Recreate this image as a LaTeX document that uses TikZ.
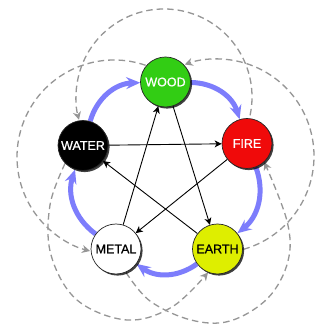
\documentclass[tikz,border=0pt]{standalone}
\usepackage{fontspec}
\newfontfamily\lblfont[FakeBold=0.8]{Liberation Sans}
\usetikzlibrary{arrows.meta,shadows,backgrounds}
\definecolor{woodc}{RGB}{50,205,20}
\definecolor{firec}{RGB}{240,10,10}
\definecolor{earthc}{RGB}{222,238,0}
\definecolor{bluec}{RGB}{125,125,252}
\definecolor{dashc}{RGB}{150,150,150}
\begin{document}
\begin{tikzpicture}[x=1pt,y=1pt,
  elem/.style={circle, minimum size=50pt, inner sep=0pt, draw=black!85, line width=0.7pt,
    font=\lblfont\fontsize{12.5}{12.5}\selectfont,
    drop shadow={shadow xshift=1.6pt, shadow yshift=-1.6pt, fill=black, opacity=0.75}},
  gen/.style={line width=5pt, draw=bluec, -{Stealth[length=14pt,width=12pt,inset=5pt]}},
  ctrl/.style={line width=0.9pt, draw=black, -{Stealth[length=7pt,width=7pt,inset=2pt]}},
  insult/.style={line width=1.3pt, draw=dashc, dash pattern=on 6.5pt off 4pt,
    -{Stealth[length=8pt,width=8pt,inset=2.5pt,fill=dashc]}}]
\useasboundingbox (0,0) rectangle (324,331);

\node[elem, fill=woodc, text=white] (wood) at (165.5,249) {WOOD};
\node[elem, fill=firec, text=white] (fire) at (247,187.5) {FIRE};
\node[elem, fill=earthc, text=black] (earth) at (217.5,82) {EARTH};
\node[elem, fill=white, text=black] (metal) at (116,82) {METAL};
\node[elem, fill=black, text=white] (water) at (83,185.5) {WATER};

\coordinate (cTop) at (164,234);
\coordinate (cRight) at (217,175);
\coordinate (cLeft) at (114,174);

\begin{scope}[on background layer]
  \fill[white] (0,0) rectangle (324,331);
  % generating cycle
  \draw[gen] (wood) to[bend left=36] (fire);
  \draw[gen] (fire) to[bend left=36] (earth);
  \draw[gen] (earth) to[bend left=36] (metal);
  \draw[gen] (metal) to[bend left=36] (water);
  \draw[gen] (water) to[bend left=36] (wood);
  % controlling cycle
  \draw[ctrl] (wood) -- (earth);
  \draw[ctrl] (earth) -- (water);
  \draw[ctrl] (water) -- (fire);
  \draw[ctrl] (fire) -- (metal);
  \draw[ctrl] (metal) -- (wood);
  % insulting cycle
  \draw[insult] ([shift={(-12:88)}]cTop) arc[start angle=-12, end angle=195, radius=88];
  \draw[insult] ([shift={(-74.2:97)}]cRight) arc[start angle=-74.2, end angle=109.4, radius=97];
  \draw[insult] ([shift={(71:97)}]cLeft) arc[start angle=71, end angle=255.7, radius=97];
  \draw[insult] plot[smooth, tension=0.6] coordinates {(water.225) (50,126) (51,76) (77,31) (127,11) (172,24) (earth.248)};
  \draw[insult] plot[smooth, tension=0.6] coordinates {(metal.293) (150,30) (191,11) (230,10) (268,33) (288,70) (287,110) (fire.313)};
\end{scope}
\end{tikzpicture}
\end{document}
